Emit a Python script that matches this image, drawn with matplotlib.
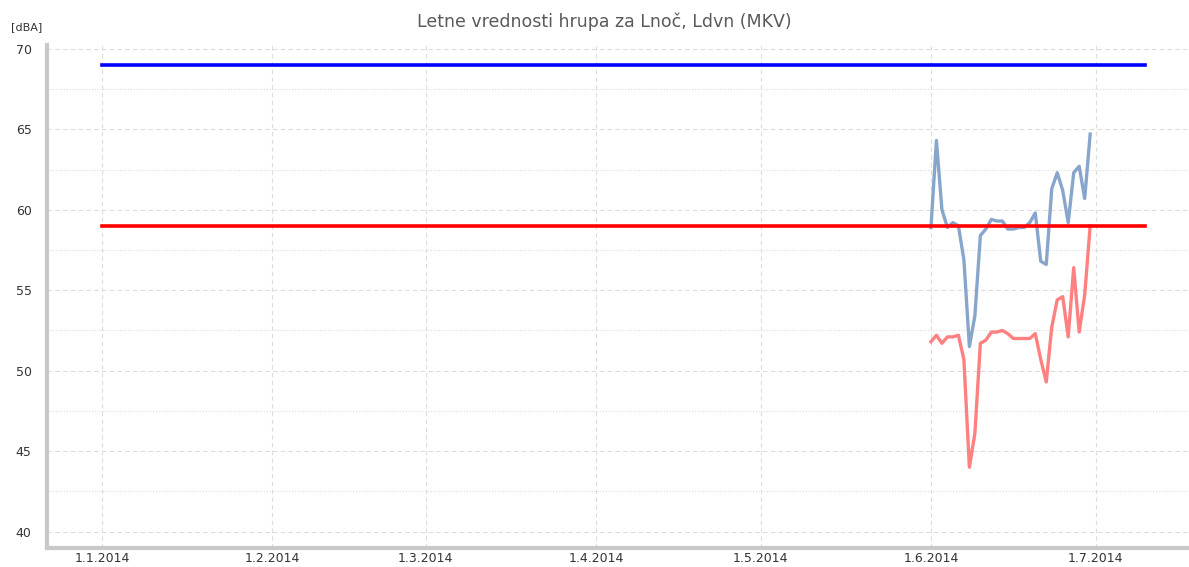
import datetime as dt
import matplotlib
matplotlib.use("Agg")
import matplotlib.pyplot as plt
import matplotlib.dates as mdates
from matplotlib.ticker import MultipleLocator

# Podatki
title = "Letne vrednosti hrupa za Lnoč, Ldvn (MKV)"
unit_label = "[dBA]"

limit_start = dt.date(2014, 1, 1)
limit_end = dt.date(2014, 7, 10)
limit_ldvn = 69.0  # modra mejna vrednost
limit_lnoc = 59.0  # rdeča mejna vrednost

days = [dt.date(2014, 6, d) for d in range(1, 31)]
ldvn = [58.9, 64.3, 60.0, 58.9, 59.2, 59.0, 56.9, 51.5, 53.4, 58.4,
        58.8, 59.4, 59.3, 59.3, 58.8, 58.8, 58.9, 58.9, 59.2, 59.8,
        56.8, 56.6, 61.3, 62.3, 61.2, 59.2, 62.3, 62.7, 60.7, 64.7]
lnoc = [51.8, 52.2, 51.7, 52.1, 52.1, 52.2, 50.7, 44.0, 46.1, 51.7,
        51.9, 52.4, 52.4, 52.5, 52.3, 52.0, 52.0, 52.0, 52.0, 52.3,
        50.7, 49.3, 52.7, 54.4, 54.6, 52.1, 56.4, 52.4, 54.7, 59.0]

tick_dates = [dt.date(2014, m, 1) for m in range(1, 8)]
tick_labels = [f"1.{m}.2014" for m in range(1, 8)]

fig = plt.figure(figsize=(11.89, 5.67), dpi=100)
ax = fig.add_axes([0.0395, 0.034, 0.9605, 0.887])

ax.plot([limit_start, limit_end], [limit_ldvn, limit_ldvn], color="#0000ff", lw=2.6, zorder=3)
ax.plot([limit_start, limit_end], [limit_lnoc, limit_lnoc], color="#ff0000", lw=2.6, zorder=3)
ax.plot(days, ldvn, color="#88a6cc", lw=2.4, zorder=2)
ax.plot(days, lnoc, color="#ff8080", lw=2.4, zorder=2)

ax.set_xlim(dt.date(2013, 12, 22), dt.date(2014, 7, 18))
ax.set_ylim(39.0, 70.25)

ax.set_xticks([mdates.date2num(d) for d in tick_dates])
ax.set_xticklabels(tick_labels)
ax.yaxis.set_major_locator(MultipleLocator(5))
ax.yaxis.set_minor_locator(MultipleLocator(2.5))

ax.grid(True, which="major", axis="both", color="#dcdcdc", ls=(0, (4, 3)), lw=0.8)
ax.grid(True, which="minor", axis="y", color="#dcdcdc", ls=(0, (1, 1.5)), lw=0.8)

for side in ("top", "right"):
    ax.spines[side].set_visible(False)
for side in ("left", "bottom"):
    ax.spines[side].set_color("#c8c8c8")
    ax.spines[side].set_linewidth(3)

ax.tick_params(which="both", length=0, labelsize=9, labelcolor="#333333")
ax.tick_params(axis="y", pad=11)
ax.tick_params(axis="x", pad=3)

fig.text(0.508, 0.962, title, ha="center", va="center", fontsize=12.5, color="#5a5a5a")
fig.text(0.009, 0.952, unit_label, ha="left", va="center", fontsize=8, color="#333333")

fig.savefig("out.png", dpi=100)
